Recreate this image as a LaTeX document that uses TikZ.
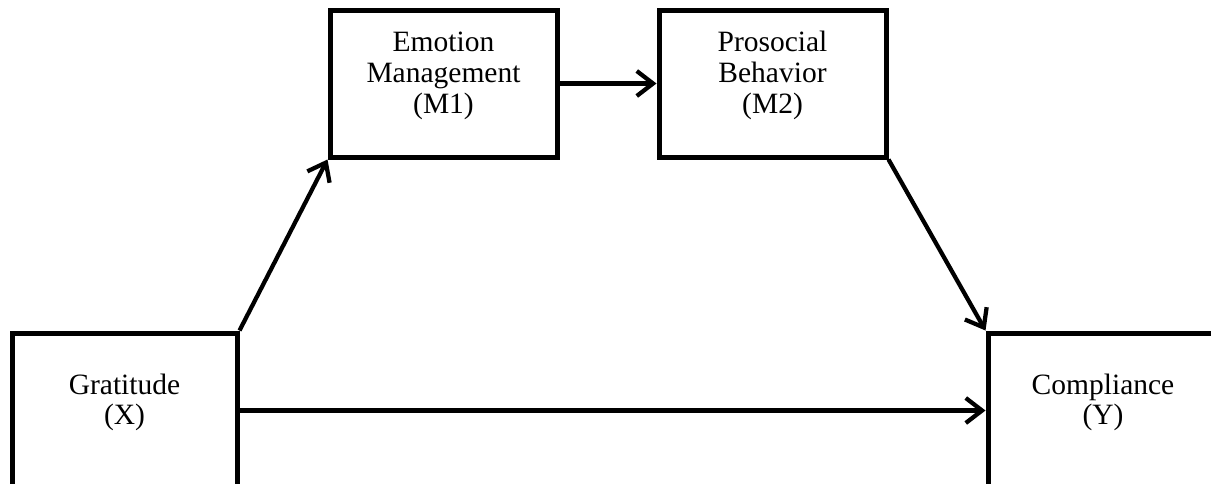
\documentclass[tikz,border=0pt]{standalone}
\usepackage{fontspec}
\setmainfont{Liberation Serif}
\usetikzlibrary{arrows.meta}
\usetikzlibrary{positioning}

\tikzset{
  varbox/.style={draw, line width=2pt, align=center,
    font=\fontsize{11.8}{12.4}\selectfont, inner sep=0pt, text depth=9pt},
  path/.style={line width=1.7pt, -{Straight Barb[length=6.5pt,width=10pt,line width=1.7pt]}}
}

\begin{document}
\begin{tikzpicture}[x=0.4pt, y=0.4pt]
  \useasboundingbox (0, 0) rectangle (1211, 483);
  % variables
  \node[varbox, minimum width=225*0.4pt, minimum height=155*0.4pt] (grat) at (124.5, 72.5) {Gratitude\\(X)};
  \node[varbox, minimum width=227*0.4pt, minimum height=147*0.4pt] (emo) at (443.5, 399.5) {Emotion\\Management\\(M1)};
  \node[varbox, minimum width=227*0.4pt, minimum height=147*0.4pt] (pro) at (772.5, 399.5) {Prosocial\\Behavior\\(M2)};
  \node[varbox, minimum width=230*0.4pt, minimum height=155*0.4pt] (comp) at (1103, 72.5) {Compliance\\(Y)};
  % paths
  \draw[path] (grat.north east) -- (emo.south west);
  \draw[path] (emo.east) -- (pro.west);
  \draw[path] (pro.south east) -- (comp.north west);
  \draw[path] (grat.east) -- (comp.west);
\end{tikzpicture}
\end{document}
